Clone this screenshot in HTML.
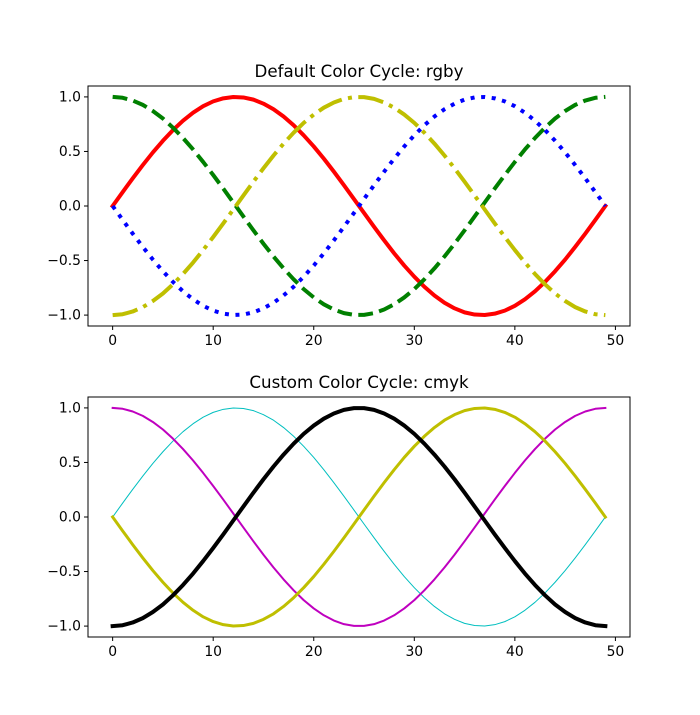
<!DOCTYPE html>
<html><head><meta charset="utf-8"><style>
body{margin:0;background:#fff;}
svg{display:block;font-family:"DejaVu Sans","Liberation Sans",sans-serif;}
</style></head><body>
<svg id="fig" width="700" height="715"></svg>
<script>
const xIndex=[...Array(50).keys()];
const sinVals=[0,0.128,0.254,0.375,0.491,0.598,0.696,0.782,0.855,0.915,0.959,0.987,0.999,0.995,0.975,0.938,0.887,0.820,0.740,0.648,0.546,0.434,0.315,0.191,0.064,-0.064,-0.191,-0.315,-0.434,-0.546,-0.648,-0.740,-0.820,-0.887,-0.938,-0.975,-0.995,-0.999,-0.987,-0.959,-0.915,-0.855,-0.782,-0.696,-0.598,-0.491,-0.375,-0.254,-0.128,0];
const cosVals=[1,0.992,0.967,0.927,0.871,0.802,0.718,0.623,0.518,0.404,0.284,0.160,0.032,-0.096,-0.223,-0.346,-0.463,-0.572,-0.672,-0.762,-0.838,-0.901,-0.949,-0.982,-0.998,-0.998,-0.982,-0.949,-0.901,-0.838,-0.762,-0.672,-0.572,-0.463,-0.346,-0.223,-0.096,0.032,0.160,0.284,0.404,0.518,0.623,0.718,0.802,0.871,0.927,0.967,0.992,1];
const negSinVals=[0,-0.128,-0.254,-0.375,-0.491,-0.598,-0.696,-0.782,-0.855,-0.915,-0.959,-0.987,-0.999,-0.995,-0.975,-0.938,-0.887,-0.820,-0.740,-0.648,-0.546,-0.434,-0.315,-0.191,-0.064,0.064,0.191,0.315,0.434,0.546,0.648,0.740,0.820,0.887,0.938,0.975,0.995,0.999,0.987,0.959,0.915,0.855,0.782,0.696,0.598,0.491,0.375,0.254,0.128,0];
const negCosVals=[-1,-0.992,-0.967,-0.927,-0.871,-0.802,-0.718,-0.623,-0.518,-0.404,-0.284,-0.160,-0.032,0.096,0.223,0.346,0.463,0.572,0.672,0.762,0.838,0.901,0.949,0.982,0.998,0.998,0.982,0.949,0.901,0.838,0.762,0.672,0.572,0.463,0.346,0.223,0.096,-0.032,-0.160,-0.284,-0.404,-0.518,-0.623,-0.718,-0.802,-0.871,-0.927,-0.967,-0.992,-1];
const xTicks=[0,10,20,30,40,50];
const yTicks=[1.0,0.5,0.0,-0.5,-1.0];
const yTickLabels=["1.0","0.5","0.0","\u22120.5","\u22121.0"];
const titles=["Default Color Cycle: rgby","Custom Color Cycle: cmyk"];

const NS="http://www.w3.org/2000/svg";
const fig=document.getElementById('fig');
function mk(tag,attrs,parent){const e=document.createElementNS(NS,tag);for(const k in attrs)e.setAttribute(k,attrs[k]);(parent||fig).appendChild(e);return e;}

const L=88,R=630,xmin=-2.45,xmax=51.45,ymin=-1.1,ymax=1.1;
const panels=[
 {top:86,bottom:326,series:[
  {v:sinVals,c:'#ff0000',w:4,d:'',n:'red-solid'},
  {v:cosVals,c:'#008000',w:4,d:'14.8,6.4',n:'green-dashed'},
  {v:negSinVals,c:'#0000ff',w:4,d:'4,6.6',n:'blue-dotted'},
  {v:negCosVals,c:'#bfbf00',w:4,d:'25.6,6.4,4,6.4',n:'yellow-dashdot'}]},
 {top:397,bottom:637,series:[
  {v:sinVals,c:'#00bfbf',w:1,d:'',n:'cyan-line'},
  {v:cosVals,c:'#bf00bf',w:2,d:'',n:'magenta-line'},
  {v:negSinVals,c:'#bfbf00',w:3,d:'',n:'yellow-line'},
  {v:negCosVals,c:'#000000',w:4,d:'',n:'black-line'}]}
];
panels.forEach((p,pi)=>{
 const g=mk('g',{});
 
 
 const xs=v=>L+(v-xmin)/(xmax-xmin)*(R-L);
 const ys=v=>p.bottom-(v-ymin)/(ymax-ymin)*(p.bottom-p.top);
 const t=mk('text',{x:(L+R)/2,y:p.top-9,'text-anchor':'middle','font-size':16.67,fill:'#000'},g);
 t.textContent=titles[pi];
 
 
 const cp=mk('clipPath',{id:'clip'+pi},g);mk('rect',{x:L,y:p.top,width:R-L,height:p.bottom-p.top},cp);
 p.series.forEach(s=>{
  const d=xIndex.map((x,i)=>(i?'L':'M')+xs(x).toFixed(2)+','+ys(s.v[i]).toFixed(2)).join('');
  const a={d:d,fill:'none',stroke:s.c,'stroke-width':s.w,'stroke-linejoin':'round','stroke-linecap':s.d?'butt':'square','clip-path':'url(#clip'+pi+')'};
  if(s.d)a['stroke-dasharray']=s.d;
  const pa=mk('path',a,g);
  
  
 });
 const fr=mk('rect',{x:L,y:p.top,width:R-L,height:p.bottom-p.top,fill:'none',stroke:'#000','stroke-width':1},g);
 
 
 xTicks.forEach(v=>{
  const x=xs(v);
  mk('line',{x1:x,x2:x,y1:p.bottom,y2:p.bottom+4,stroke:'#000'},g);
  const tx=mk('text',{x:x,y:p.bottom+19,'text-anchor':'middle','font-size':13.9},g);
  tx.textContent=v;
  
  
 });
 yTicks.forEach((v,i)=>{
  const y=ys(v);
  mk('line',{x1:L-4,x2:L,y1:y,y2:y,stroke:'#000'},g);
  const ty=mk('text',{x:L-7,y:y+4.5,'text-anchor':'end','font-size':13.9},g);
  ty.textContent=yTickLabels[i];
  
  
 });
});
</script>
</body></html>
